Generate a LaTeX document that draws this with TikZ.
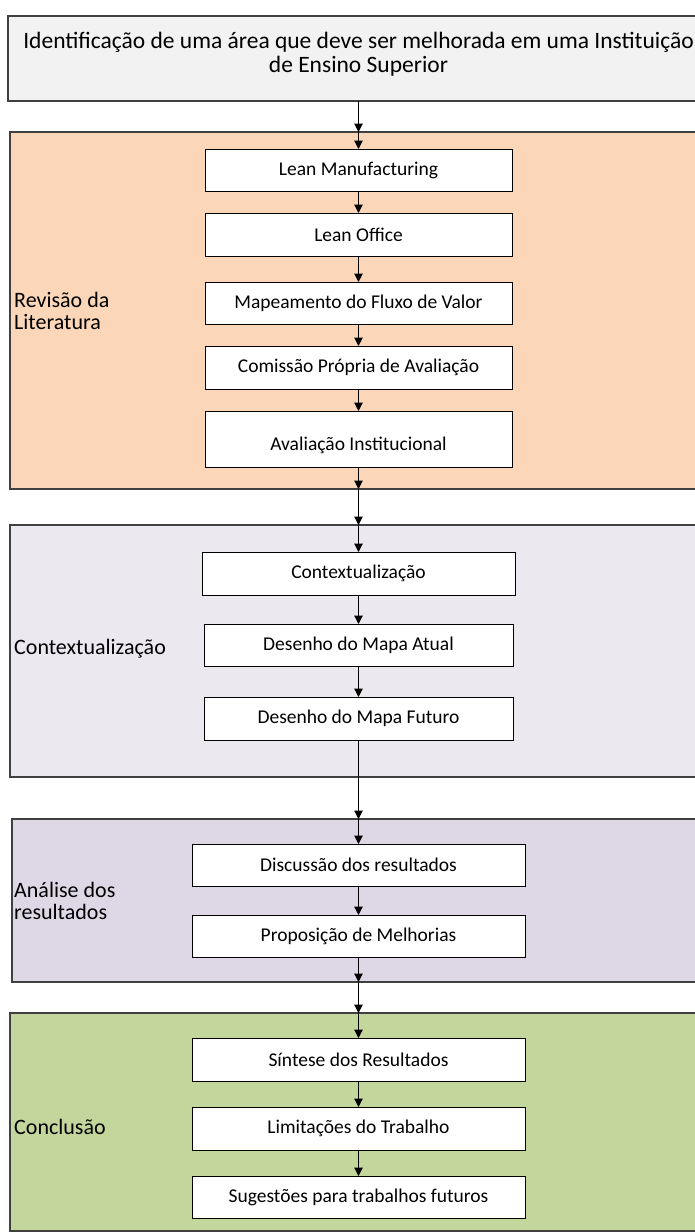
\documentclass[tikz,border=0pt]{standalone}
\usepackage{fontspec}
\setmainfont{Carlito}
\usetikzlibrary{arrows.meta}
\definecolor{goalfill}{HTML}{F2F2F2}
\definecolor{revfill}{HTML}{FBD6B8}
\definecolor{ctxfill}{HTML}{EBE8F0}
\definecolor{anafill}{HTML}{DED8E6}
\definecolor{confill}{HTML}{C3D69B}
\definecolor{edge}{HTML}{404040}

\begin{document}
\begin{tikzpicture}[x=1pt,y=-1pt,
  phasebox/.style={draw=edge, line width=1.1pt, inner sep=0pt, outer sep=0pt,
    minimum width=702pt, anchor=north west},
  stepbox/.style={draw=black, line width=0.9pt, fill=white, inner sep=0pt, outer sep=0pt,
    font=\fontsize{19.5}{22}\selectfont, anchor=north west},
  phase/.style={font=\fontsize{22}{22}\selectfont, align=left, anchor=west, inner sep=0pt},
  flow/.style={line width=1.1pt, -{Triangle[width=8.5pt,length=8.5pt]}}
]
\useasboundingbox (0,0) rectangle (694,1232);
\fill[white] (0,0) rectangle (694,1232);

% goal of the study
\node[phasebox, fill=goalfill, minimum width=701pt, minimum height=85pt] (goal) at (8,16) {};
\node[align=center, inner sep=0pt, font=\fontsize{23.5}{24}\selectfont] (goaltxt) at (358.5,54)
  {Identificação de uma área que deve ser melhorada em uma Instituição\\de Ensino Superior};

% phase panels
\node[phasebox, fill=revfill, minimum height=357pt] (rev) at (10,132) {};
\node[phasebox, fill=ctxfill, minimum height=252pt] (ctx) at (10,525) {};
\node[phasebox, fill=anafill, minimum height=163pt] (ana) at (12,819) {};
\node[phasebox, fill=confill, minimum height=218pt] (con) at (10,1013) {};

% phase labels
\node[phase] (revlbl) at (14,311) {Revisão da\\Literatura};
\node[phase] (ctxlbl) at (14,649) {Contextualização};
\node[phase] (analbl) at (14,901) {Análise dos\\resultados};
\node[phase] (conlbl) at (14,1127) {Conclusão};

% steps: literature review
\node[stepbox, minimum width=307pt, minimum height=42pt] (lm)  at (205,149) {Lean Manufacturing};
\node[stepbox, minimum width=307pt, minimum height=43pt] (lo)  at (205,213) {Lean Office};
\node[stepbox, minimum width=307pt, minimum height=42pt] (mfv) at (205,282) {Mapeamento do Fluxo de Valor};
\node[stepbox, minimum width=307pt, minimum height=43pt] (cpa) at (205,346) {Comissão Própria de Avaliação};
\node[stepbox, minimum width=307pt, minimum height=56pt] (ai)  at (205,411) {};
\node[inner sep=0pt, font=\fontsize{19.5}{22}\selectfont] (aitxt) at (358.5,445) {Avaliação Institucional};

% steps: context
\node[stepbox, minimum width=313pt, minimum height=43pt] (cx) at (202,552) {Contextualização};
\node[stepbox, minimum width=309pt, minimum height=42pt] (ma) at (204,624) {Desenho do Mapa Atual};
\node[stepbox, minimum width=309pt, minimum height=43pt] (mf) at (204,697) {Desenho do Mapa Futuro};

% steps: analysis
\node[stepbox, minimum width=333pt, minimum height=42pt] (dr) at (192,844) {Discussão dos resultados};
\node[stepbox, minimum width=333pt, minimum height=42pt] (pm) at (192,915) {Proposição de Melhorias};

% steps: conclusion
\node[stepbox, minimum width=333pt, minimum height=43pt] (sr) at (192,1038) {Síntese dos Resultados};
\node[stepbox, minimum width=333pt, minimum height=43pt] (lt) at (192,1107) {Limitações do Trabalho};
\node[stepbox, minimum width=333pt, minimum height=42pt] (sf) at (192,1176) {Sugestões para trabalhos futuros};

% crossing points of the flow with the panel edges
\coordinate (revtop) at (lm.north |- rev.north);
\coordinate (revbot) at (lm.north |- rev.south);
\coordinate (ctxtop) at (lm.north |- ctx.north);
\coordinate (anatop) at (lm.north |- ana.north);
\coordinate (anabot) at (lm.north |- ana.south);
\coordinate (contop) at (lm.north |- con.north);

% flow
\draw[flow] (goal.south -| lm.north) -- (revtop);
\draw[flow] (revtop) -- (lm.north);
\draw[flow] (lm) -- (lo);
\draw[flow] (lo) -- (mfv);
\draw[flow] (mfv) -- (cpa);
\draw[flow] (cpa) -- (ai);
\draw[flow] (ai) -- (revbot);
\draw[flow] (revbot) -- (ctxtop);
\draw[flow] (ctxtop) -- (cx.north);
\draw[flow] (cx) -- (ma);
\draw[flow] (ma) -- (mf);
\draw[flow] (mf.south) -- (anatop);
\draw[flow] (anatop) -- (dr.north);
\draw[flow] (dr) -- (pm);
\draw[flow] (pm.south) -- (anabot);
\draw[flow] (anabot) -- (contop);
\draw[flow] (contop) -- (sr.north);
\draw[flow] (sr) -- (lt);
\draw[flow] (lt) -- (sf);
\end{tikzpicture}
\end{document}
